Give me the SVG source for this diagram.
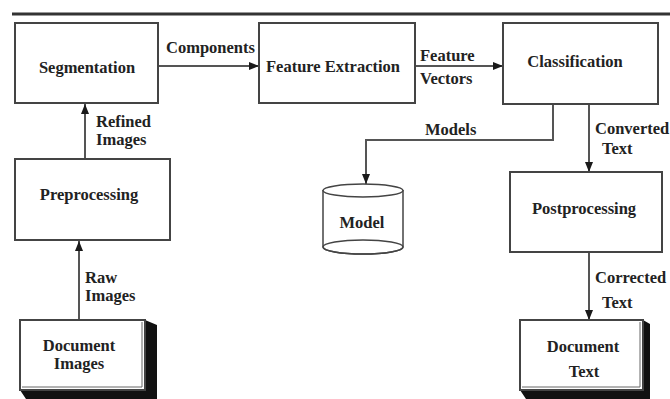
<svg xmlns="http://www.w3.org/2000/svg" width="670" height="399" viewBox="0 0 670 399">
<defs>
<marker id="ah" markerWidth="10" markerHeight="8" refX="10" refY="4" orient="auto" markerUnits="userSpaceOnUse">
<path d="M0,0 L10,4 L0,8 Z" fill="#1a1a1a"/>
</marker>
<style>
.box{fill:#fff;stroke:#444;stroke-width:2}
.ln{fill:none;stroke:#555;stroke-width:2}
.t{font-family:"Liberation Serif","Times New Roman",serif;font-weight:bold;font-size:16.5px;fill:#222}
.c{text-anchor:middle}
.shadow{fill:#111}
.inner{fill:none;stroke:#666;stroke-width:1}
</style>
</defs>
<rect x="0" y="0" width="670" height="399" fill="#fff"/>
<line x1="12" y1="14" x2="670" y2="14" stroke="#333" stroke-width="3"/>

<g id="connectors">
<line class="ln" x1="158" y1="66" x2="259" y2="66" marker-end="url(#ah)"/>
<line class="ln" x1="415" y1="66" x2="503" y2="66" marker-end="url(#ah)"/>
<line class="ln" x1="85" y1="159" x2="85" y2="104" marker-end="url(#ah)"/>
<line class="ln" x1="79" y1="320" x2="79" y2="241" marker-end="url(#ah)"/>
<polyline class="ln" points="553,104 553,140 366,140 366,184" marker-end="url(#ah)"/>
<line class="ln" x1="589" y1="104" x2="589" y2="172" marker-end="url(#ah)"/>
<line class="ln" x1="589" y1="252" x2="589" y2="320" marker-end="url(#ah)"/>
<text class="t" x="166" y="53">Components</text>
<text class="t" x="420" y="61">Feature</text>
<text class="t" x="420" y="84">Vectors</text>
<text class="t" x="96" y="127">Refined</text>
<text class="t" x="96" y="145">Images</text>
<text class="t" x="85" y="283">Raw</text>
<text class="t" x="85" y="301">Images</text>
<text class="t" x="425" y="135">Models</text>
<text class="t" x="595" y="134">Converted</text>
<text class="t" x="602" y="154">Text</text>
<text class="t" x="595" y="283">Corrected</text>
<text class="t" x="602" y="308">Text</text>
</g>

<g id="segmentation">
<rect class="box" x="15" y="23" width="143" height="80"/>
<text class="t c" x="87" y="73">Segmentation</text>
</g>
<g id="feature-extraction">
<rect class="box" x="259" y="23" width="156" height="80"/>
<text class="t c" x="333" y="72">Feature Extraction</text>
</g>
<g id="classification">
<rect class="box" x="503" y="23" width="155" height="81"/>
<text class="t c" x="575" y="67">Classification</text>
</g>
<g id="preprocessing">
<rect class="box" x="15" y="159" width="155" height="81"/>
<text class="t c" x="89" y="200">Preprocessing</text>
</g>
<g id="postprocessing">
<rect class="box" x="510" y="172" width="152" height="80"/>
<text class="t c" x="584" y="214">Postprocessing</text>
</g>
<g id="model">
<path d="M323,190 L323,247 A40,7 0 0 0 403,247 L403,190" fill="#fff" stroke="#444" stroke-width="1.5"/>
<ellipse cx="363" cy="190.5" rx="40" ry="6.5" fill="#fff" stroke="#444" stroke-width="1.5"/>
<ellipse cx="363" cy="247" rx="40" ry="7" fill="none" stroke="#444" stroke-width="1.5"/>
<text class="t c" x="362" y="228">Model</text>
</g>
<g id="document-images">
<polygon class="shadow" points="145,320 157,325 157,399 26,399 20,390 145,390"/>
<rect class="box" x="20" y="320" width="125" height="70"/>
<polyline class="inner" points="22,387 142,387 142,322"/>
<text class="t c" x="79" y="351">Document</text>
<text class="t c" x="79" y="369">Images</text>
</g>
<g id="document-text">
<polygon class="shadow" points="643,320 650,324 650,399 526,399 520,390 643,390"/>
<rect class="box" x="520" y="320" width="123" height="70"/>
<polyline class="inner" points="522,387 640,387 640,322"/>
<text class="t c" x="583" y="352">Document</text>
<text class="t c" x="584" y="377">Text</text>
</g>
</svg>
